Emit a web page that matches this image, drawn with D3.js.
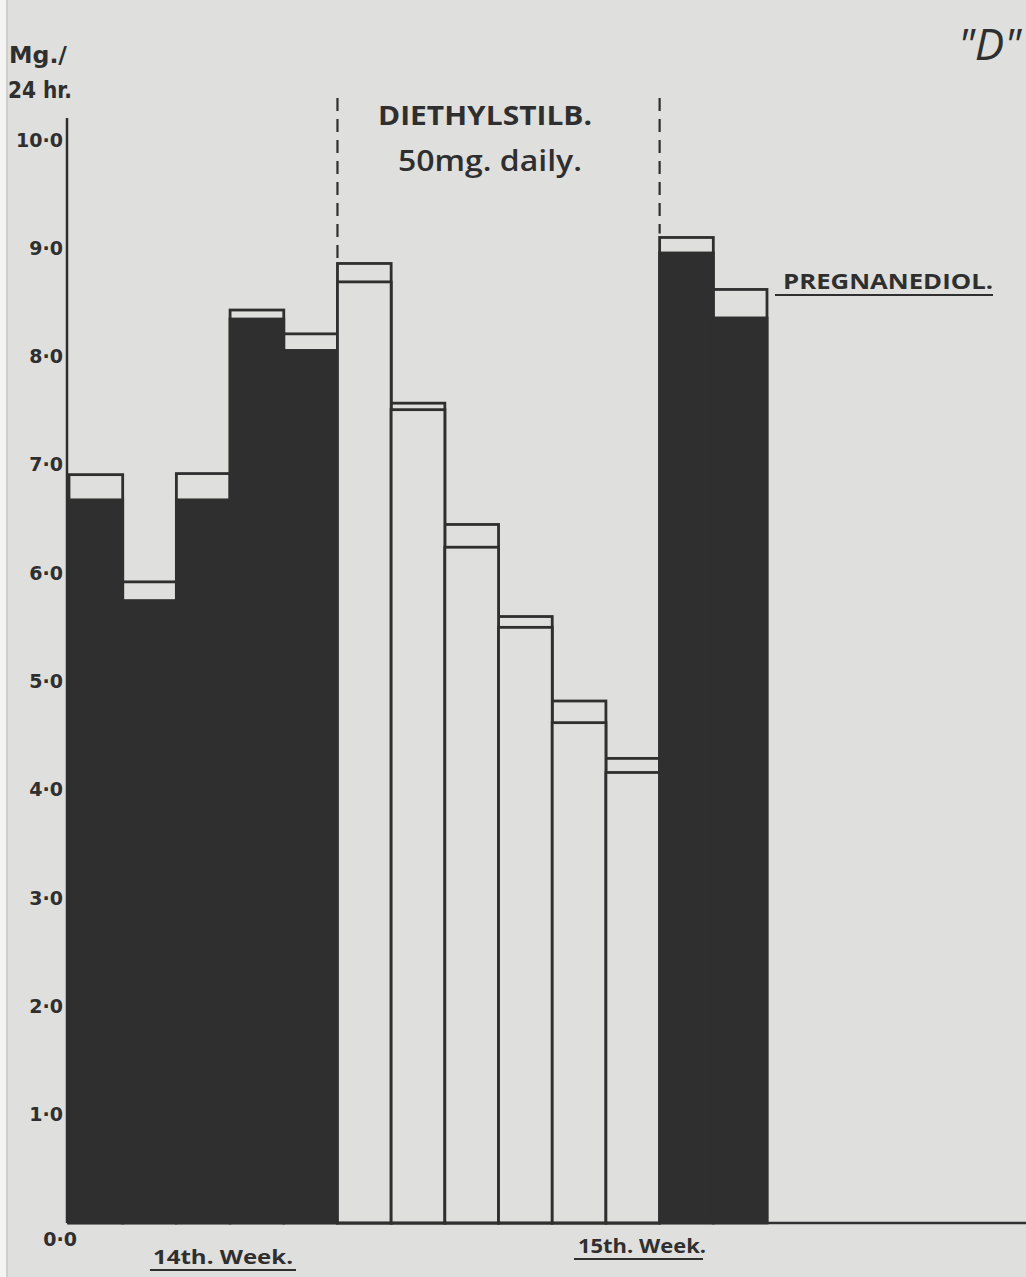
<!DOCTYPE html>
<html>
<head>
<meta charset="utf-8">
<script src="https://cdn.jsdelivr.net/npm/d3@7"></script>
<style>
  html, body { margin: 0; padding: 0; background: #dfdfdd; }
  svg { display: block; }
</style>
</head>
<body>
<svg id="chart" width="1026" height="1277"></svg>
<script>
// ---- data (against the tick labels) ----
const days = ["d1","d2","d3","d4","d5","d6","d7","d8","d9","d10","d11","d12","d13"];
const totalValues = [6.91, 5.92, 6.92, 8.43, 8.21, 8.86, 7.57, 6.45, 5.60, 4.82, 4.29, 9.10, 8.62];
const lowerValues = [6.69, 5.76, 6.69, 8.36, 8.07, 8.69, 7.51, 6.24, 5.50, 4.62, 4.16, 8.97, 8.37];
const treated    = [false,false,false,false,false,true,true,true,true,true,true,false,false];
const yTicks = [0,1,2,3,4,5,6,7,8,9,10];
const yTickLabels = ["0·0","1·0","2·0","3·0","4·0","5·0","6·0","7·0","8·0","9·0","10·0"];
const weekLabels = ["14th. Week.", "15th. Week."];

const INK = "#2f2f2f";
const PAPER = "#dfdfdd";
const svg = d3.select("#chart");

// paper background with photo edge on the left
svg.append("rect").attr("x",0).attr("y",0).attr("width",1026).attr("height",1277).attr("fill",PAPER);
svg.append("rect").attr("x",0).attr("y",0).attr("width",6).attr("height",1277).attr("fill","#f4f4f2");
svg.append("line").attr("x1",7).attr("x2",7).attr("y1",0).attr("y2",1277).attr("stroke","#c8c8c6").attr("stroke-width",1.5);

const y = d3.scaleLinear().domain([0,10]).range([1223, 140]);
const x = d3.scaleBand().domain(days).range([69, 767]).paddingInner(0).paddingOuter(0);

// y axis
const axisX = 67;
const yAxis = d3.axisLeft(y).tickValues(yTicks).tickSize(0).tickPadding(4)
  .tickFormat((d,i) => yTickLabels[i]);
const gAxis = svg.append("g").attr("transform", `translate(${axisX},0)`).call(yAxis);
gAxis.select(".domain").remove();
gAxis.selectAll("text")
  .attr("font-family","'DejaVu Sans', sans-serif").attr("font-weight",700)
  .attr("font-size",19).attr("fill",INK);
gAxis.selectAll(".tick").filter(d => d === 0).select("text")
  .attr("dy","1.2em").attr("x", 10);
svg.append("line").attr("x1",axisX).attr("x2",axisX).attr("y1",118).attr("y2",y(0))
  .attr("stroke",INK).attr("stroke-width",2.5);

// bars: outer (total) box in paper colour, inner (lower) part filled
const bars = svg.append("g");
days.forEach((d,i) => {
  bars.append("rect")
    .attr("x", x(d)).attr("width", x.bandwidth())
    .attr("y", y(totalValues[i])).attr("height", y(0) - y(totalValues[i]))
    .attr("fill", PAPER).attr("stroke", INK).attr("stroke-width", 2.8);
});
days.forEach((d,i) => {
  bars.append("rect")
    .attr("x", x(d) - (treated[i] ? 0 : 1.4)).attr("width", x.bandwidth() + (treated[i] ? 0 : 2.8))
    .attr("y", y(lowerValues[i])).attr("height", y(0) - y(lowerValues[i]))
    .attr("fill", treated[i] ? PAPER : INK)
    .attr("stroke", treated[i] ? INK : "none").attr("stroke-width", 2.8);
});

// baseline extending to the right edge
svg.append("line").attr("x1",axisX).attr("x2",1026).attr("y1",y(0)).attr("y2",y(0))
  .attr("stroke",INK).attr("stroke-width",2.5);

// dashed treatment boundaries
const bStart = x(days[5]);
const bEnd = x(days[11]);
[[bStart, totalValues[5]],[bEnd, totalValues[11]]].forEach(([bx, v]) => {
  svg.append("line").attr("x1",bx).attr("x2",bx).attr("y1",98).attr("y2",y(v)-4)
    .attr("stroke",INK).attr("stroke-width",2.2).attr("stroke-dasharray","13,8");
});

const font = "'Open Sans', sans-serif";
const heavy = "'DejaVu Sans', sans-serif";
// unit label
svg.append("text").attr("x",9).attr("y",63).attr("font-family",heavy).attr("font-weight",700)
  .attr("font-size",23).attr("fill",INK)
  .attr("textLength",58).attr("lengthAdjust","spacingAndGlyphs").text("Mg./");
svg.append("text").attr("x",8).attr("y",98).attr("font-family",heavy).attr("font-weight",700)
  .attr("font-size",23).attr("fill",INK)
  .attr("textLength",64).attr("lengthAdjust","spacingAndGlyphs").text("24 hr.");

// treatment annotation
svg.append("text").attr("x",485).attr("y",125).attr("text-anchor","middle")
  .attr("font-family",font).attr("font-weight",700).attr("font-size",26).attr("fill",INK)
  .attr("textLength",214).attr("lengthAdjust","spacingAndGlyphs").text("DIETHYLSTILB.");
svg.append("text").attr("x",490).attr("y",171).attr("text-anchor","middle")
  .attr("font-family",font).attr("font-weight",600).attr("font-size",29).attr("fill",INK)
  .attr("textLength",184).attr("lengthAdjust","spacingAndGlyphs").text("50mg. daily.");

// series label
svg.append("text").attr("x",783).attr("y",289).attr("font-family",font).attr("font-weight",700)
  .attr("font-size",21).attr("fill",INK)
  .attr("textLength",210).attr("lengthAdjust","spacingAndGlyphs").text("PREGNANEDIOL.");
svg.append("line").attr("x1",775).attr("x2",993).attr("y1",295).attr("y2",295)
  .attr("stroke",INK).attr("stroke-width",2.2);

// panel letter
svg.append("text").attr("x",958).attr("y",60).attr("font-family",font).attr("font-style","italic")
  .attr("font-size",44).attr("fill",INK).text("\"D\"");

// week labels
[[153, 1264, 140, weekLabels[0], 150, 296, 1270],[578, 1253, 128, weekLabels[1], 574, 703, 1259]]
.forEach(([tx, ty, tl, t, lx1, lx2, ly]) => {
  svg.append("text").attr("x",tx).attr("y",ty).attr("font-family",font).attr("font-weight",700)
    .attr("font-size",19).attr("fill",INK)
    .attr("textLength",tl).attr("lengthAdjust","spacingAndGlyphs").text(t);
  svg.append("line").attr("x1",lx1).attr("x2",lx2).attr("y1",ly).attr("y2",ly)
    .attr("stroke",INK).attr("stroke-width",2);
});
</script>
</body>
</html>
